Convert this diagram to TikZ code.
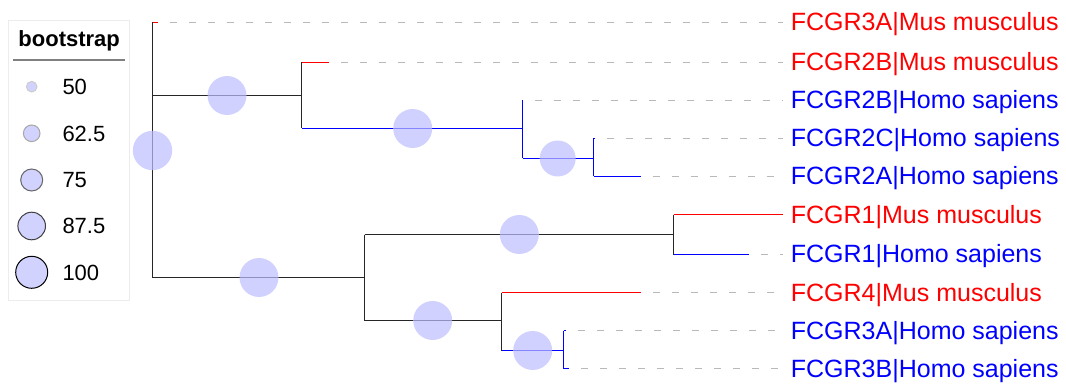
\documentclass[tikz,border=0pt]{standalone}
\usepackage{fontspec}
\setmainfont{Liberation Sans}
\definecolor{bsfill}{RGB}{190,190,255}
\definecolor{legfill}{RGB}{210,210,255}
\definecolor{treered}{RGB}{255,0,0}
\definecolor{treeblue}{RGB}{0,0,255}
\definecolor{dashgray}{RGB}{185,185,185}
\begin{document}
\begin{tikzpicture}[x=1pt,y=-1pt,
  br/.style={line width=1.6pt, draw=black!85},
  rbr/.style={line width=1.6pt, draw=treered},
  bbr/.style={line width=1.6pt, draw=treeblue},
  guide/.style={draw=dashgray, line width=1.3pt, dash pattern=on 7pt off 12pt, dash phase=7pt},
  bsnode/.style={circle, fill=bsfill, fill opacity=0.7, minimum size=39pt, inner sep=0},
  leafred/.style={anchor=base west, inner sep=0, text=treered, font=\fontsize{25}{30}\selectfont},
  leafblue/.style={anchor=base west, inner sep=0, text=treeblue, font=\fontsize{25}{30}\selectfont},
  legtxt/.style={anchor=base west, inner sep=0, font=\fontsize{22}{26}\selectfont},
  legcirc/.style={circle, fill=legfill, inner sep=0, line width=1pt}]
\useasboundingbox (0,0) rectangle (1066,385);

% ---------- legend ----------
\node[draw=gray!15, line width=1pt, minimum width=121pt, minimum height=279pt, inner sep=0] (legend) at (68.8,160.5) {};
\node[anchor=base, inner sep=0, font=\bfseries\fontsize{22}{26}\selectfont] (legtitle) at (69.2,46.7) {bootstrap};
\coordinate (sepL) at (13,60);
\coordinate (sepR) at (125,60);
\draw[gray, line width=1.5pt] (sepL) -- (sepR);
\node[legcirc, draw=gray!40, minimum size=10.6pt] (lc1) at (31.7,86.7) {};
\node[legcirc, draw=gray!70, minimum size=16.6pt] (lc2) at (31.7,133.3) {};
\node[legcirc, draw=black!60, minimum size=22pt] (lc3) at (31.7,180) {};
\node[legcirc, draw=black!75, minimum size=27.6pt] (lc4) at (31.7,226) {};
\node[legcirc, draw=black, minimum size=32pt] (lc5) at (31.7,272.3) {};
\node[legtxt] (lt1) at (62.3,94.4) {50};
\node[legtxt] (lt2) at (62.3,141.1) {62.5};
\node[legtxt] (lt3) at (62.3,187.8) {75};
\node[legtxt] (lt4) at (62.3,233.8) {87.5};
\node[legtxt] (lt5) at (62.3,280.1) {100};

% ---------- internal node positions ----------
\coordinate (rootT) at (152.5,22.5);
\coordinate (rootA) at (152.5,95.5);
\coordinate (rootB) at (152.5,277.5);
\coordinate (nAT) at (301.5,62.5);
\coordinate (nAM) at (301.5,95.5);
\coordinate (nAB) at (301.5,128.5);
\coordinate (nCT) at (522.5,100.5);
\coordinate (nCB) at (522.5,158.5);
\coordinate (nDT) at (593.5,138.5);
\coordinate (nDB) at (593.5,176.5);
\coordinate (nBT) at (364.5,234.5);
\coordinate (nBM) at (364.5,277.5);
\coordinate (nBB) at (364.5,320.5);
\coordinate (nFT) at (673.5,214.5);
\coordinate (nFB) at (673.5,254.5);
\coordinate (nGT) at (501.5,292.5);
\coordinate (nGB) at (501.5,350.5);
\coordinate (nHT) at (563.5,330.5);
\coordinate (nHB) at (563.5,368.5);

% leaf tips
\coordinate (tip1) at (158.3,22.5);
\coordinate (tip2) at (329,62.5);
\coordinate (tip3) at (522.5,100.5);
\coordinate (tip4) at (595,138.5);
\coordinate (tip5) at (640.7,176.5);
\coordinate (tip6) at (783.3,214.5);
\coordinate (tip7) at (748.7,254.5);
\coordinate (tip8) at (641,292.5);
\coordinate (tip9) at (566,330.5);
\coordinate (tip10) at (569,368.5);

% ---------- labels ----------
\node[leafred]  (l1)  at (790.7,31.0)  {FCGR3A|Mus musculus};
\node[leafred]  (l2)  at (790.7,70.5)  {FCGR2B|Mus musculus};
\node[leafblue] (l3)  at (790.7,109.0) {FCGR2B|Homo sapiens};
\node[leafblue] (l4)  at (790.7,147.0) {FCGR2C|Homo sapiens};
\node[leafblue] (l5)  at (790.7,185.0) {FCGR2A|Homo sapiens};
\node[leafred]  (l6)  at (790.7,223.5) {FCGR1|Mus musculus};
\node[leafblue] (l7)  at (790.7,262.5) {FCGR1|Homo sapiens};
\node[leafred]  (l8)  at (790.7,301.0) {FCGR4|Mus musculus};
\node[leafblue] (l9)  at (790.7,339.0) {FCGR3A|Homo sapiens};
\node[leafblue] (l10) at (790.7,377.0) {FCGR3B|Homo sapiens};

% guide ends
\foreach \i/\yy in {1/22.5,2/62.5,3/100.5,4/138.5,5/176.5,7/254.5,8/292.5,9/330.5,10/368.5}{
  \coordinate (gend\i) at (783,\yy);
  \draw[guide] (tip\i) -- (gend\i);
}

% ---------- black branches ----------
\draw[br] (rootT) -- (rootB);
\draw[br] (rootA) -- (nAM);
\draw[br] (nAT) -- (nAB);
\draw[br] (rootB) -- (nBM);
\draw[br] (nBT) -- (nBB);
\draw[br] (nBT) -- (nFT |- nBT);
\draw[br] (nFT) -- (nFB);
\draw[br] (nBB) -- (nGT |- nBB);
\draw[br] (nGT) -- (nGB);

% ---------- red branches ----------
\draw[rbr] (rootT) -- (tip1);
\draw[rbr] (nAT) -- (tip2);
\draw[rbr] (nFT) -- (tip6);
\draw[rbr] (nGT) -- (tip8);

% ---------- blue branches ----------
\draw[bbr] (nAB) -- (nCT |- nAB);
\draw[bbr] (nCT) -- (nCB);
\draw[bbr] (nCB) -- (nDT |- nCB);
\draw[bbr] (nDT) -- (nDB);
\draw[bbr] (nDT) -- (tip4);
\draw[bbr] (nDB) -- (tip5);
\draw[bbr] (nFB) -- (tip7);
\draw[bbr] (nGB) -- (nHT |- nGB);
\draw[bbr] (nHT) -- (nHB);
\draw[bbr] (nHT) -- (tip9);
\draw[bbr] (nHB) -- (tip10);

% ---------- bootstrap circles ----------
\node[bsnode, minimum size=39.4pt] (bs0) at (152.5,150.5) {};
\node[bsnode] (bs1) at (227,95.5) {};
\node[bsnode] (bs2) at (412.7,128.5) {};
\node[bsnode, minimum size=36pt] (bs3) at (557.7,158.5) {};
\node[bsnode] (bs4) at (259,277.5) {};
\node[bsnode] (bs5) at (519.3,234.5) {};
\node[bsnode] (bs6) at (432.7,320.5) {};
\node[bsnode] (bs7) at (532.7,350.5) {};
\end{tikzpicture}
\end{document}
